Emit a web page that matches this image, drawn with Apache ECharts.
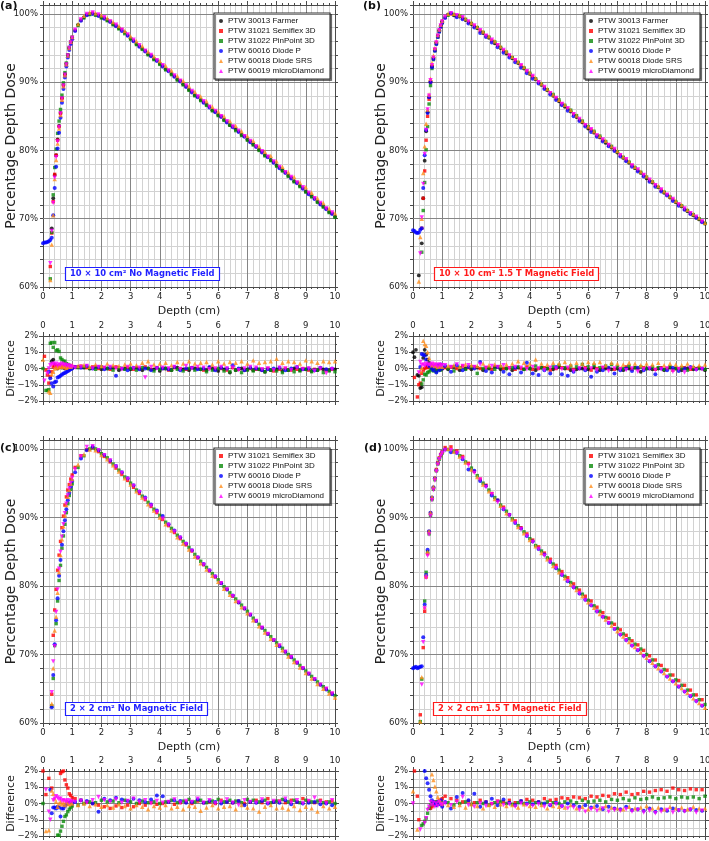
<!DOCTYPE html>
<html><head><meta charset="utf-8">
<script src="https://cdn.jsdelivr.net/npm/echarts@6/dist/echarts.min.js"></script>
<style>html,body{margin:0;padding:0;background:#fff}#c{width:709px;height:841px}</style>
</head><body><div id="c"></div>
<script>
const _ = null;
// depth grids (cm)
const depthA = [0,0.05,0.1,0.15,0.2,0.25,0.3, 0.35,0.4,0.45,0.5,0.55,0.6,0.65, 0.7,0.75,0.8,0.85,0.9,0.95,1.0,
  1.2,1.4,1.6,1.8,2.0, 2.2,2.4,2.6,2.8,3.0, 3.2,3.4,3.6,3.8,4.0, 4.2,4.4,4.6,4.8,5.0, 5.2,5.4,5.6,5.8,6.0,
  6.2,6.4,6.6,6.8,7.0, 7.2,7.4,7.6,7.8,8.0, 8.2,8.4,8.6,8.8,9.0, 9.2,9.4,9.6,9.8,10.0];
const depthB = [0,0.05,0.1,0.15,0.2,0.25,0.3, 0.35,0.4,0.45,0.5,0.55,0.6,0.65, 0.7,0.75,0.8,0.85,0.9,0.95,1.0,
  1.1,1.3,1.5,1.7,1.9, 2.1,2.3,2.5,2.7,2.9, 3.1,3.3,3.5,3.7,3.9, 4.1,4.3,4.5,4.7,4.9, 5.1,5.3,5.5,5.7,5.9,
  6.1,6.3,6.5,6.7,6.9, 7.1,7.3,7.5,7.7,7.9, 8.1,8.3,8.5,8.7,8.9, 9.1,9.3,9.5,9.7,9.9];

const detectorNames = ['PTW 30013 Farmer','PTW 31021 Semiflex 3D','PTW 31022 PinPoint 3D','PTW 60016 Diode P','PTW 60018 Diode SRS','PTW 60019 microDiamond'];
const yTicksMain = [60,70,80,90,100];
const yTicksDiff = [-2,-1,0,1,2];
const panelTags = ['(a)','(b)','(c)','(d)'];
const fieldNotes = ['10 × 10 cm² No Magnetic Field','10 × 10 cm² 1.5 T Magnetic Field','2 × 2 cm² No Magnetic Field','2 × 2 cm² 1.5 T Magnetic Field'];

// ===== (a) 10x10, 0 T : PDD (%) =====
const a_farmer_pdd = [_,_,_,_,_,_,68.6, 73.0,76.4,79.3,81.6,83.6,85.5,87.7, 89.6,91.2,92.7,94.0,95.0,95.8,96.5,
 98.4,99.5,100.0,99.9,99.5, 99.1,98.5,97.9,97.3,96.4, 95.6,94.9,94.1,93.4,92.7, 91.9,91.2,90.4,89.7,88.9, 88.1,87.4,86.7,85.9,85.2,
 84.5,83.7,83.1,82.3,81.6, 80.9,80.1,79.3,78.6,77.8, 77.1,76.3,75.5,74.8,74.0, 73.3,72.5,71.8,71.0,70.3];
const a_semiflex_pdd = [_,_,_,_,_,63.0,67.9, 72.5,76.5,79.3,81.5,83.5,85.4,87.6, 89.5,91.1,92.6,93.9,95.0,95.8,96.5,
 97.6,99.1,99.9,100.1,99.8, 99.4,98.9,98.3,97.7,96.9, 96.1,95.3,94.6,93.9,93.2, 92.4,91.7,90.9,90.2,89.4, 88.6,87.9,87.1,86.4,85.7,
 85.0,84.2,83.5,82.8,82.1, 81.3,80.6,79.8,79.1,78.3, 77.5,76.8,76.0,75.3,74.5, 73.7,73.0,72.2,71.5,70.8];
const a_pinpoint_pdd = [_,_,_,_,_,61.2,68.0, 73.5,77.5,80.2,82.5,84.3,86.0,88.1, 89.9,91.4,92.8,94.0,95.1,95.9,96.6,
 98.3,99.4,99.9,99.8,99.4, 99.0,98.4,97.8,97.1,96.3, 95.5,94.8,94.0,93.3,92.6, 91.8,91.1,90.3,89.6,88.8, 88.0,87.3,86.6,85.8,85.1,
 84.4,83.7,82.9,82.2,81.5, 80.8,80.0,79.2,78.5,77.7, 77.0,76.2,75.4,74.7,73.9, 73.2,72.4,71.7,70.9,70.2];
const a_diodeP_pdd = [66.4,66.5,66.5,66.6,66.7,66.9,67.2, 70.5,74.5,77.6,80.3,82.6,84.8,87.0, 89.0,90.7,92.3,93.6,94.7,95.6,96.3,
 97.5,99.0,99.8,100.0,99.7, 99.3,98.8,98.2,97.5,96.8, 96.0,95.2,94.5,93.8,93.1, 92.3,91.6,90.8,90.1,89.3, 88.5,87.8,87.0,86.3,85.6,
 84.9,84.1,83.4,82.7,82.0, 81.2,80.5,79.7,79.0,78.2, 77.4,76.7,75.9,75.2,74.4, 73.6,72.9,72.1,71.4,70.7];
const a_srs_pdd = [_,_,_,_,_,61.0,66.2, 70.5,75.8,78.6,81.0,83.2,85.2,87.4, 89.4,91.0,92.6,93.9,95.0,95.9,96.6,
 98.5,99.7,100.2,100.1,99.8, 99.4,98.8,98.2,97.5,96.7, 96.0,95.3,94.5,93.8,93.1, 92.4,91.7,90.9,90.2,89.4, 88.6,87.9,87.2,86.4,85.7,
 85.0,84.3,83.6,82.8,82.1, 81.4,80.6,79.8,79.2,78.4, 77.6,76.8,76.1,75.3,74.6, 73.8,73.0,72.3,71.5,70.8];
const a_micro_pdd = [_,_,_,_,_,63.5,68.2, 72.3,76.0,79.0,81.3,83.4,85.4,87.6, 89.5,91.1,92.6,93.9,95.0,95.8,96.5,
 97.7,99.2,100.0,100.2,99.9, 99.5,98.9,98.4,97.7,97.0, 96.2,95.4,94.6,94.0,93.2, 92.5,91.7,91.0,90.2,89.5, 88.7,87.9,87.2,86.4,85.8,
 85.0,84.3,83.5,82.9,82.1, 81.4,80.6,79.9,79.1,78.4, 77.6,76.8,76.1,75.3,74.6, 73.8,73.0,72.3,71.5,70.9];
// (a) difference (%)
const a_farmer_diff = [_,_,_,_,_,_,0.45, 0.55,0.25,0.1,0.0,0.1,0.15,0.05, 0.1,0.0,0.1,0.05,0.0,0.1,0.05,
 0.1,0.05,0.0,0.1,-0.05, 0.0,0.05,-0.1,0.0,-0.05, 0.05,-0.1,0.0,-0.05,-0.15, 0.0,-0.1,0.05,-0.05,-0.1, 0.0,-0.05,-0.1,0.0,-0.15,
 -0.05,-0.25,-0.1,0.0,-0.05, -0.1,-0.05,-0.2,-0.1,-0.05, -0.15,-0.1,0.0,-0.1,-0.05, -0.15,-0.1,-0.05,-0.1,-0.05];
const a_semiflex_diff = [_,0.75,-0.1,-0.4,-0.9,-0.5,-0.2, 0.1,0.2,0.15,0.1,0.2,0.1,0.15, 0.1,0.2,0.05,0.1,0.15,0.1,0.05,
 0.1,0.15,0.05,0.1,0.0, 0.05,-0.05,0.1,0.0,0.05, -0.05,0.0,0.1,-0.05,0.05, 0.0,-0.1,0.05,0.0,-0.05, 0.05,0.0,-0.1,0.05,-0.05,
 0.0,-0.1,0.05,-0.05,-0.1, 0.0,-0.05,-0.1,0.0,-0.15, -0.05,0.0,-0.1,-0.05,0.0, -0.1,-0.05,0.0,-0.1,-0.05];
const a_pinpoint_diff = [0.0,_,-1.35,-1.35,-1.3,1.55,1.6, 1.3,1.6,1.1,1.15,1.05,0.65,0.55, 0.45,0.45,0.3,0.25,0.2,0.15,0.1,
 0.05,0.1,0.0,-0.05,0.1, 0.0,-0.1,0.05,-0.05,0.0, -0.1,0.05,0.0,-0.15,-0.05, 0.0,-0.1,-0.05,-0.15,0.0, -0.1,-0.05,-0.2,-0.1,0.0,
 -0.15,-0.2,-0.1,-0.25,-0.1, -0.15,-0.05,-0.2,-0.1,-0.15, -0.25,-0.1,-0.2,-0.15,-0.05, -0.2,-0.1,-0.25,-0.15,-0.2];
const a_diodeP_diff = [_,_,_,_,-0.2,-0.6,-0.9, -1.1,-0.85,-0.8,-0.55,-0.5,-0.45,-0.37, -0.3,-0.27,-0.22,-0.17,-0.1,-0.05,0.0,
 0.1,0.05,0.15,0.0,0.1, -0.05,0.05,-0.45,0.0,-0.1, 0.05,-0.05,0.0,-0.1,0.05, 0.0,-0.05,0.1,-0.1,0.0, 0.05,-0.05,0.0,0.1,-0.1,
 0.05,0.0,0.2,0.0,-0.1, 0.05,0.0,-0.1,-0.05,0.0, 0.05,-0.1,0.0,0.1,-0.05, 0.0,-0.1,0.05,-0.05,0.0];
const a_srs_diff = [0.55,_,_,_,-1.4,-1.5,-0.35, -0.2,0.0,0.1,0.05,0.15,0.1,0.2, 0.1,0.15,0.05,0.1,0.15,0.1,0.2,
 0.15,0.2,0.1,0.25,0.15, 0.3,0.2,0.15,0.25,0.3, 0.2,0.35,0.45,0.25,0.3, 0.35,0.2,0.4,0.3,0.45, 0.3,0.35,0.4,0.25,0.45,
 0.3,0.4,0.35,0.45,0.3, 0.5,0.35,0.4,0.45,0.6, 0.35,0.45,0.4,0.3,0.5, 0.45,0.35,0.45,0.4,0.45];
const a_micro_diff = [_,-0.75,_,-0.3,0.0,0.2,0.25, 0.3,0.2,0.3,0.15,0.25,0.2,0.3, 0.2,0.25,0.15,0.2,0.1,0.15,0.1,
 0.05,0.1,0.15,0.0,0.1, 0.05,0.1,0.0,-0.05,0.1, 0.0,0.05,-0.55,0.1,0.0, 0.05,0.0,0.1,-0.05,0.15, 0.0,0.1,0.05,-0.05,0.0,
 0.1,0.0,0.05,-0.1,0.0, 0.1,0.05,-0.05,0.0,-0.1, 0.05,0.0,-0.1,0.05,-0.05, 0.0,-0.15,0.0,-0.3,-0.05];

// ===== (b) 10x10, 1.5 T =====
const b_farmer_pdd = [_,_,_,_,61.7,_,66.4, 73.0,78.5,82.8,85.6,87.8,90.1,92.3, 93.6,94.8,95.8,96.8,97.6,98.3,98.9,
 99.9,99.8,99.6,99.1,98.5, 97.9,97.2,96.5,95.7,95.0, 94.2,93.5,92.8,92.0,91.2, 90.4,89.6,88.8,88.0,87.2, 86.4,85.7,84.9,84.1,83.2,
 82.6,81.9,81.1,80.4,79.7, 78.9,78.2,77.4,76.7,75.9, 75.3,74.6,73.8,73.1,72.4, 71.8,71.1,70.5,69.9,69.3];
const b_semiflex_pdd = [_,_,_,_,_,_,68.6, 73.0,77.0,81.5,85.0,87.5,90.0,92.3, 93.5,94.7,95.7,96.7,97.5,98.2,98.8,
 99.5,100.0,99.7,99.4,98.8, 98.2,97.5,96.8,96.1,95.4, 94.6,93.9,93.2,92.4,91.6, 90.8,90.0,89.2,88.4,87.6, 86.8,86.1,85.3,84.5,83.7,
 83.0,82.2,81.5,80.8,80.1, 79.3,78.6,77.8,77.1,76.4, 75.6,74.9,74.2,73.5,72.8, 72.1,71.4,70.8,70.2,69.6];
const b_pinpoint_pdd = [_,_,_,_,_,_,65.1, 71.2,75.3,80.1,83.5,86.8,89.5,92.0, 93.3,94.6,95.6,96.6,97.4,98.1,98.7,
 99.8,99.9,99.7,99.2,98.6, 98.0,97.3,96.6,95.9,95.1, 94.4,93.6,92.9,92.1,91.3, 90.5,89.7,88.9,88.2,87.4, 86.6,85.9,85.1,84.3,83.5,
 82.8,82.1,81.3,80.6,79.8, 79.0,78.3,77.5,76.8,76.1, 75.4,74.6,73.9,73.2,72.5, 71.9,71.2,70.6,70.0,69.3];
const b_diodeP_pdd = [68.3,68.2,68.0,67.9,68.0,68.4,68.6, 74.5,79.3,83.0,85.5,87.8,90.0,92.2, 93.4,94.6,95.6,96.6,97.4,98.1,98.7,
 99.4,100.1,99.5,99.2,98.6, 98.0,97.2,96.6,95.8,95.1, 94.3,93.6,92.9,92.1,91.3, 90.5,89.8,89.0,88.2,87.4, 86.6,85.8,85.0,84.3,83.5,
 82.7,82.0,81.3,80.6,79.9, 79.1,78.4,77.6,76.9,76.2, 75.4,74.7,74.0,73.4,72.6, 71.9,71.3,70.7,70.1,69.5];
const b_srs_pdd = [_,_,_,_,60.8,67.3,70.0, 76.7,80.6,83.9,86.0,88.2,90.5,92.8, 93.9,95.0,96.0,96.9,97.7,98.4,99.0,
 100.0,100.0,99.8,99.3,98.7, 98.1,97.4,96.7,96.0,95.2, 94.5,93.7,93.0,92.2,91.4, 90.6,89.8,89.0,88.2,87.4, 86.7,85.9,85.1,84.3,83.5,
 82.8,82.1,81.4,80.6,79.9, 79.1,78.4,77.6,76.9,76.2, 75.5,74.8,74.0,73.3,72.6, 72.0,71.3,70.7,70.1,69.4];
const b_micro_pdd = [_,_,_,_,_,64.9,70.2, 75.1,79.5,83.0,86.0,88.0,90.3,92.5, 93.6,94.8,95.8,96.8,97.6,98.3,98.9,
 99.6,100.1,99.8,99.5,98.9, 98.3,97.6,96.8,96.2,95.4, 94.7,93.9,93.2,92.5,91.6, 90.9,90.0,89.3,88.4,87.7, 86.8,86.2,85.3,84.6,83.7,
 83.1,82.2,81.6,80.8,80.2, 79.3,78.7,77.8,77.2,76.4, 75.7,74.9,74.3,73.5,72.9, 72.1,71.5,70.8,70.3,69.6];
const b_farmer_diff = [1.0,0.7,1.15,-0.4,-0.45,-1.2,-1.15, 0.65,1.15,0.85,0.55,0.35,0.25,0.15, 0.1,0.05,-0.1,0.0,0.05,-0.05,0.0,
 -0.05,0.1,-0.1,0.0,-0.05, 0.05,-0.1,0.0,0.1,-0.05, 0.0,-0.1,0.05,-0.05,0.0, -0.1,0.05,0.0,-0.05,0.1, 0.0,-0.1,-0.05,0.0,-0.05,
 0.05,-0.1,0.0,-0.05,0.0, -0.1,0.0,0.05,-0.2,0.0, -0.05,0.0,-0.1,0.05,0.0, -0.1,0.0,-0.05,0.05,-0.1];
const b_semiflex_diff = [_,-0.55,_,-1.75,-1.0,-0.9,-0.3, -0.1,0.0,0.1,0.05,0.15,0.1,0.0, 0.05,0.1,0.0,-0.05,0.1,0.05,0.0,
 0.05,0.1,0.0,0.15,0.05, 0.1,0.0,0.05,-0.05,0.1, 0.0,0.05,-0.05,0.0,0.1, -0.05,0.0,0.05,-0.1,0.0, 0.05,0.0,-0.05,0.0,0.05,
 -0.1,0.0,0.05,0.0,-0.05, 0.0,0.1,-0.05,0.0,0.05, 0.0,-0.05,0.05,0.0,-0.1, 0.0,0.05,-0.05,0.0,0.0];
const b_pinpoint_diff = [_,_,_,_,_,_,-0.95, -0.7,-0.35,-0.4,-0.25,-0.2,-0.1,0.0, -0.15,0.0,-0.2,-0.05,0.0,-0.1,0.05,
 0.0,-0.15,0.05,-0.05,0.1, -0.3,0.0,0.05,-0.05,0.1, 0.0,0.05,0.1,-0.05,0.0, 0.15,0.05,0.0,0.1,0.2, 0.05,0.15,0.1,0.25,0.1,
 0.2,0.05,0.15,0.25,0.1, 0.0,0.15,0.05,0.1,0.0, 0.1,0.05,-0.05,0.1,0.0, 0.05,-0.1,0.05,0.0,-0.05];
const b_diodeP_diff = [_,_,_,_,_,0.1,0.9, 0.85,0.8,0.55,0.25,0.15,0.2,0.0, -0.1,0.1,-0.25,0.2,-0.1,0.25,0.0,
 0.15,-0.2,0.2,-0.1,0.1, 0.0,0.4,-0.15,-0.25,0.1, -0.2,-0.35,0.05,-0.25,0.35, -0.3,-0.4,-0.1,-0.3,0.1, -0.35,-0.45,-0.2,0.0,-0.1,
 -0.5,-0.2,-0.1,0.05,-0.3, -0.1,0.0,-0.15,0.05,-0.1, 0.0,-0.35,0.0,-0.1,0.05, -0.15,0.0,0.1,-0.05,0.0];
const b_srs_diff = [_,_,_,_,_,-0.15,0.05, 1.7,1.5,1.4,1.0,0.65,0.3,0.2, 0.25,0.15,0.2,0.1,0.15,0.2,0.1,
 0.15,0.2,0.1,0.25,0.2, 0.15,0.3,0.2,0.25,0.2, 0.25,0.3,0.45,0.35,0.3, 0.55,0.3,0.25,0.35,0.3, 0.4,0.25,0.35,0.3,0.4,
 0.35,0.4,0.2,0.35,0.3, 0.25,0.35,0.3,0.2,0.3, 0.25,0.35,0.2,0.3,0.25, 0.2,0.3,0.15,0.2,0.25];
const b_micro_diff = [_,_,_,_,-0.25,0.4,0.2, 0.25,0.15,0.3,0.2,0.25,0.2,0.3, 0.15,0.25,0.2,0.1,0.25,0.15,0.2,
 0.2,0.1,0.25,0.15,0.2, 0.1,0.25,0.05,0.15,0.1, 0.2,0.0,0.1,0.05,-0.05, 0.1,0.0,-0.1,0.05,0.0, -0.05,0.05,-0.15,0.0,-0.05,
 0.0,-0.1,0.05,-0.15,0.0, -0.05,-0.1,0.0,-0.2,-0.05, 0.0,-0.1,-0.05,0.0,-0.2, -0.05,-0.25,0.0,-0.1,-0.05];

// ===== (c) 2x2, 0 T =====
const c_semiflex_pdd = [_,_,_,_,_,_,64.2, 72.8,76.5,79.5,82.3,84.5,86.5,88.5, 90.2,91.8,93.0,94.0,94.8,95.6,96.2,
 97.3,99.0,99.9,100.2,99.6, 98.9,98.1,97.2,96.3,95.4, 94.4,93.5,92.6,91.6,90.7, 89.7,88.8,87.8,86.9,86.0, 85.1,84.1,83.1,82.2,81.3,
 80.4,79.5,78.5,77.6,76.7, 75.8,74.9,73.9,73.0,72.1, 71.3,70.4,69.6,68.8,68.0, 67.2,66.4,65.6,65.0,64.3];
const c_pinpoint_pdd = [_,_,_,_,_,_,62.5, 66.5,71.3,74.5,77.8,80.8,83.0,85.5, 87.3,89.0,90.7,92.0,93.2,94.1,94.9,
 97.3,99.0,100.0,100.0,99.3, 98.7,97.8,96.9,95.9,95.0, 94.0,93.1,92.2,91.2,90.3, 89.3,88.4,87.4,86.5,85.6, 84.6,83.6,82.7,81.8,80.9,
 79.9,79.0,78.1,77.2,76.3, 75.3,74.4,73.5,72.6,71.7, 70.9,70.0,69.2,68.4,67.6, 66.8,66.0,65.3,64.6,64.0];
const c_diodeP_pdd = [_,_,_,_,_,_,62.3, 67.0,71.5,75.0,78.2,81.5,83.8,86.0, 88.0,89.6,91.2,92.5,93.6,94.5,95.3,
 96.6,98.6,99.8,100.3,99.8, 99.1,98.3,97.5,96.6,95.7, 94.7,93.8,92.9,91.9,91.0, 90.2,89.0,88.1,87.1,86.2, 85.2,84.2,83.2,82.3,81.4,
 80.4,79.5,78.6,77.6,76.7, 75.8,74.9,73.9,73.0,72.1, 71.2,70.4,69.6,68.8,68.0, 67.2,66.4,65.6,64.9,64.2];
const c_srs_pdd = [_,_,_,_,_,_,62.8, 68.0,73.5,75.5,79.0,82.0,84.5,86.8, 88.7,90.3,91.8,93.0,94.0,94.9,95.6,
 97.7,99.2,99.9,99.8,99.1, 98.5,97.6,96.7,95.7,94.8, 93.8,92.9,91.9,91.0,90.0, 89.0,88.1,87.1,86.2,85.3, 84.3,83.3,82.4,81.5,80.6,
 79.6,78.7,77.8,76.9,76.0, 75.0,74.1,73.2,72.3,71.4, 70.6,69.7,68.9,68.1,67.3, 66.5,65.7,65.0,64.3,63.7];
const c_micro_pdd = [_,_,_,_,_,_,64.5, 69.0,71.2,76.2,79.5,82.5,85.0,87.2, 89.0,90.6,92.0,93.2,94.2,95.0,95.8,
 97.0,98.9,100.3,100.4,99.8, 99.1,98.3,97.4,96.5,95.6, 94.6,93.7,92.7,91.7,90.8, 89.8,88.9,87.9,87.0,86.1, 85.1,84.1,83.1,82.2,81.3,
 80.4,79.5,78.5,77.6,76.7, 75.8,74.9,73.9,73.0,72.1, 71.3,70.4,69.6,68.8,68.0, 67.2,66.4,65.6,65.0,64.3];
const c_semiflex_diff = [2.0,_,0.55,_,1.55,_,0.95, _,_,_,_,_,1.85,1.95, 2.0,1.45,1.15,0.95,0.6,0.5,0.35,
 0.3,0.2,0.1,0.0,-0.1, -0.2,-0.3,-0.15,-0.25,-0.1, -0.2,0.0,-0.1,0.05,-0.05, 0.0,0.1,-0.05,0.05,0.1, 0.0,0.15,0.05,0.1,0.0,
 0.2,0.1,0.05,0.15,0.0, 0.1,0.2,0.05,0.3,0.1, 0.15,0.05,0.2,0.1,0.3, 0.15,0.05,0.2,0.1,0.15];
const c_pinpoint_diff = [0.0,_,_,_,_,_,_, _,_,_,-1.95,-1.95,-1.7,-1.4, -1.1,-0.8,-0.7,-0.5,-0.35,-0.25,-0.15,
 -0.1,0.0,0.1,0.05,0.2, 0.1,0.15,0.05,0.2,0.1, 0.0,0.15,0.05,0.1,0.0, 0.1,0.2,0.05,0.15,0.25, 0.1,0.2,0.05,0.15,0.25,
 0.1,0.2,0.15,0.05,0.25, 0.2,0.1,0.2,0.05,0.15, 0.25,0.1,0.2,0.05,0.2, 0.1,0.15,0.05,0.1,0.0];
const c_diodeP_diff = [_,_,_,_,_,0.85,-0.6, -0.25,-0.25,-0.3,-0.2,-0.25,-0.8,-0.3, -0.3,-0.15,-0.05,0.0,0.05,0.1,0.0,
 0.1,0.2,0.15,0.0,-0.5, 0.3,0.2,0.35,0.25,0.15, 0.3,0.2,0.1,0.25,0.5, 0.45,0.1,0.2,0.15,0.05, 0.1,0.25,0.05,0.15,0.1,
 0.0,0.1,0.05,0.15,-0.1, 0.1,0.05,0.15,0.0,0.1, 0.05,0.2,-0.05,0.1,0.0, 0.05,0.1,-0.05,0.0,-0.1];
const c_srs_diff = [_,_,-1.7,_,-1.65,_,0.8, 0.6,0.3,0.1,-0.2,0.0,0.1,-0.05, 0.05,-0.1,0.1,0.0,-0.05,0.05,0.0,
 -0.1,0.0,-0.15,-0.05,-0.2, -0.1,-0.25,-0.05,-0.15,-0.3, -0.1,-0.2,-0.35,-0.15,-0.25, -0.1,-0.3,-0.2,-0.35,-0.15, -0.2,-0.45,-0.25,-0.1,-0.3,
 -0.2,-0.15,-0.35,-0.1,-0.25, -0.3,-0.5,-0.2,-0.1,-0.3, -0.25,-0.35,-0.15,-0.4,-0.2, -0.3,-0.5,-0.15,-0.3,-0.2];
const c_micro_diff = [_,_,0.85,_,-0.5,-1.0,_, 0.2,0.3,0.45,0.35,0.25,0.3,0.15, 0.2,0.15,0.1,0.2,0.05,0.15,0.1,
 0.1,0.15,0.05,0.2,0.4, 0.2,0.1,0.25,0.05,0.15, 0.3,0.1,0.2,0.0,0.15, 0.05,0.1,0.25,0.05,0.15, 0.1,0.3,0.05,0.2,0.0,
 0.1,0.25,0.05,-0.1,0.2, 0.1,0.05,0.25,0.0,0.15, 0.1,0.3,0.05,0.2,0.0, 0.15,0.35,0.1,0.0,0.2];

// ===== (d) 2x2, 1.5 T =====
const d_semiflex_pdd = [_,_,_,_,_,61.2,_, 71.0,76.3,81.3,84.7,87.9,90.6,92.8, 94.3,95.7,97.0,98.0,98.7,99.2,99.6,
 100.2,100.3,99.7,98.9,97.9, 96.7,95.6,94.7,93.5,92.5, 91.5,90.4,89.5,88.5,87.6, 86.7,85.7,84.8,83.9,83.0, 82.1,81.2,80.3,79.4,78.5,
 77.8,76.9,76.1,75.3,74.4, 73.6,72.8,72.0,71.4,70.6, 69.8,69.2,68.4,67.7,67.0, 66.2,65.5,64.8,64.1,63.4];
const d_pinpoint_pdd = [_,_,_,_,_,60.2,66.4, _,77.8,82.0,85.0,87.6,90.3,92.6, 94.1,95.5,96.8,97.8,98.5,99.0,99.4,
 99.9,99.6,99.0,98.1,97.2, 96.1,95.0,94.0,92.9,91.8, 90.9,89.8,88.8,87.9,86.9, 85.9,85.1,84.1,83.2,82.3, 81.4,80.5,79.7,78.8,77.9,
 77.1,76.3,75.4,74.6,73.8, 73.0,72.3,71.5,70.8,70.0, 69.2,68.5,67.8,67.0,66.3, 65.5,64.8,64.1,63.4,62.7];
const d_diodeP_pdd = [68.0,68.1,68.2,68.0,68.1,68.2,68.3, 72.5,77.3,81.6,85.3,88.0,90.7,92.9, 94.4,95.7,96.9,97.9,98.6,99.1,99.5,
 99.9,99.5,99.4,98.5,97.0, 96.8,95.3,94.6,93.2,92.5, 91.2,90.4,89.2,88.4,87.3, 86.5,85.4,84.6,83.5,82.6, 81.6,80.7,79.8,78.9,78.0,
 77.2,76.3,75.5,74.6,73.7, 72.9,72.1,71.3,70.6,69.8, 69.0,68.3,67.5,66.8,66.1, 65.3,64.6,63.9,63.2,62.5];
const d_srs_pdd = [_,_,_,_,_,60.2,66.7, _,76.9,81.5,85.0,88.0,90.7,93.0, 94.5,95.8,97.0,98.0,98.7,99.2,99.6,
 100.0,99.6,98.9,98.0,97.0, 95.9,94.8,93.8,92.7,91.7, 90.6,89.7,88.6,87.7,86.7, 85.8,84.8,83.9,82.9,82.0, 81.1,80.2,79.4,78.5,77.6,
 76.8,75.9,75.1,74.2,73.4, 72.6,71.8,71.1,70.3,69.5, 68.8,68.0,67.3,66.5,65.8, 65.1,64.4,63.6,62.9,62.2];
const d_micro_pdd = [_,_,_,_,_,_,65.6, 71.8,76.7,81.2,84.4,87.5,90.2,92.5, 94.0,95.4,96.7,97.7,98.5,99.0,99.4,
 99.8,99.8,99.4,98.6,97.6, 96.5,95.5,94.4,93.4,92.2, 91.2,90.3,89.2,88.3,87.3, 86.4,85.4,84.4,83.5,82.6, 81.6,80.7,79.7,78.9,77.9,
 77.1,76.2,75.4,74.6,73.7, 72.8,72.0,71.2,70.6,69.7, 69.0,68.2,67.5,66.7,66.0, 65.3,64.5,63.9,63.1,62.5];
const d_semiflex_diff = [_,2.0,_,0.45,-1.0,_,_, _,_,_,_,_,-0.3,-0.2, -0.1,0.0,0.1,0.05,0.2,0.1,0.3,
 0.45,0.3,0.2,0.1,0.15, 0.05,0.2,0.1,0.0,0.15, 0.1,0.2,0.05,0.15,0.25, 0.2,0.1,0.3,0.2,0.25, 0.35,0.3,0.4,0.35,0.3,
 0.45,0.4,0.5,0.45,0.6, 0.55,0.7,0.55,0.6,0.75, 0.7,0.8,0.85,0.75,0.95, 0.85,0.8,0.9,0.85,0.85];
const d_pinpoint_diff = [_,_,_,_,_,_,-1.35, -1.25,-1.1,-0.9,-0.6,-0.3,-0.1,0.05, 0.0,0.1,-0.05,0.05,0.0,0.1,-0.1,
 0.05,-0.1,0.0,0.1,-0.05, 0.05,0.0,-0.1,0.05,0.1, 0.0,-0.05,0.05,0.0,0.1, 0.05,0.0,0.1,0.05,0.0, 0.1,0.15,0.05,0.2,0.1,
 0.15,0.2,0.1,0.25,0.2, 0.3,0.2,0.35,0.25,0.3, 0.4,0.3,0.35,0.4,0.3, 0.4,0.35,0.4,0.3,0.45];
const d_diodeP_diff = [_,_,_,_,_,_,_, _,2.0,1.55,1.25,0.85,0.45,0.2, 0.1,0.0,-0.1,0.1,-0.05,0.2,-0.2,
 0.1,-0.3,0.4,0.65,0.2, 0.6,-0.2,0.1,0.3,-0.1, 0.25,0.05,-0.1,0.15,0.0, -0.05,0.1,0.0,-0.1,0.05, -0.15,0.0,-0.1,-0.2,-0.1,
 -0.25,-0.15,-0.35,-0.2,-0.3, -0.35,-0.2,-0.4,-0.35,-0.45, -0.3,-0.5,-0.35,-0.45,-0.3, -0.4,-0.45,-0.35,-0.4,-0.45];
const d_srs_diff = [0.75,_,_,-1.6,_,_,_, _,_,_,_,_,_,1.8, 1.45,1.05,0.75,0.4,0.2,0.1,0.0,
 -0.1,-0.2,-0.1,-0.25,-0.05, -0.15,-0.3,-0.1,-0.2,-0.05, -0.15,-0.1,-0.25,-0.05,-0.15, -0.2,-0.1,-0.3,-0.15,-0.2, -0.25,-0.1,-0.3,-0.2,-0.35,
 -0.2,-0.3,-0.15,-0.25,-0.3, -0.35,-0.2,-0.3,-0.25,-0.15, -0.3,-0.25,-0.35,-0.2,-0.3, -0.25,-0.35,-0.2,-0.3,-0.3];
const d_micro_diff = [0.0,_,_,_,_,-1.6,_, _,-1.2,-0.9,-0.4,-0.2,0.1,-0.1, 0.05,-0.2,0.0,-0.15,0.1,-0.05,-0.1,
 0.0,-0.1,0.1,0.4,-0.1, -0.2,0.0,-0.15,-0.05,0.1, -0.1,-0.05,-0.2,0.0,-0.1, -0.15,-0.05,-0.2,-0.1,-0.05, -0.2,-0.3,-0.25,-0.4,-0.5,
 -0.35,-0.45,-0.3,-0.5,-0.4, -0.45,-0.35,-0.5,-0.4,-0.55, -0.45,-0.6,-0.5,-0.4,-0.55, -0.45,-0.5,-0.4,-0.55,-0.45];

// ---------------- styling / layout ----------------
const FONT = 'DejaVu Sans';
const AX = '#4a4a4a', MAJ = '#858585', MIN = '#d2d2d2', TXT = '#222';
const TICK_FS = 8.5;
const YMAX = 101.3;
const styles = [
  {color:'#000000', symbol:'circle', size:3.8, rot:0},
  {color:'#ff0000', symbol:'rect', size:3.4, rot:0},
  {color:'#0a8a0a', symbol:'rect', size:3.4, rot:0},
  {color:'#0000ff', symbol:'circle', size:4, rot:0},
  {color:'#ff8c1a', symbol:'triangle', size:4.4, rot:0},
  {color:'#ff00ff', symbol:'triangle', size:4.4, rot:180}
];
const gridBoxes = [
  {left:43, top:5, width:292, height:282}, {left:43, top:336, width:292, height:65},
  {left:413, top:5, width:292, height:282}, {left:413, top:336, width:292, height:65},
  {left:43, top:440, width:292, height:283}, {left:43, top:771, width:292, height:65},
  {left:413, top:440, width:292, height:283}, {left:413, top:771, width:292, height:65}
];

const panels = [
  {g:0, dets:[[0,depthA,a_farmer_pdd,a_farmer_diff],[1,depthB,a_semiflex_pdd,a_semiflex_diff],[2,depthA,a_pinpoint_pdd,a_pinpoint_diff],
              [3,depthB,a_diodeP_pdd,a_diodeP_diff],[4,depthA,a_srs_pdd,a_srs_diff],[5,depthB,a_micro_pdd,a_micro_diff]]},
  {g:2, dets:[[0,depthA,b_farmer_pdd,b_farmer_diff],[1,depthB,b_semiflex_pdd,b_semiflex_diff],[2,depthA,b_pinpoint_pdd,b_pinpoint_diff],
              [3,depthB,b_diodeP_pdd,b_diodeP_diff],[4,depthA,b_srs_pdd,b_srs_diff],[5,depthB,b_micro_pdd,b_micro_diff]]},
  {g:4, dets:[[1,depthB,c_semiflex_pdd,c_semiflex_diff],[2,depthA,c_pinpoint_pdd,c_pinpoint_diff],
              [3,depthB,c_diodeP_pdd,c_diodeP_diff],[4,depthA,c_srs_pdd,c_srs_diff],[5,depthB,c_micro_pdd,c_micro_diff]]},
  {g:6, dets:[[1,depthB,d_semiflex_pdd,d_semiflex_diff],[2,depthA,d_pinpoint_pdd,d_pinpoint_diff],
              [3,depthB,d_diodeP_pdd,d_diodeP_diff],[4,depthA,d_srs_pdd,d_srs_diff],[5,depthB,d_micro_pdd,d_micro_diff]]}
];

function pts(depths, vals){
  const out = [];
  for (let i = 0; i < vals.length && i < depths.length; i++) if (vals[i] !== null) out.push([depths[i], vals[i]]);
  return out;
}
const fmtPct = v => (v < 0 ? '\u2212' + (-v) : '' + v) + '%';

const grid = gridBoxes.map(b => Object.assign({containLabel:false, outerBoundsMode:'none', show:false}, b));
const xAxis = [], yAxis = [];
const line = {show:true, onZero:false, lineStyle:{color:AX, width:1}};
gridBoxes.forEach((b, gi) => {
  const main = gi % 2 === 0;
  const xb = {gridIndex:gi, type:'value', min:0, max:10, interval:1, axisLine:line,
    axisTick:{show:true, inside:false, length:4, lineStyle:{color:AX}},
    minorTick:{show:true, splitNumber:5, length:2, lineStyle:{color:AX}}};
  xAxis.push(Object.assign({}, xb, {position:'bottom', z:0,
    axisLabel:{show:main, fontSize:TICK_FS, color:TXT, fontFamily:FONT, margin:5},
    splitLine:{show:true, showMinLine:false, showMaxLine:false, lineStyle:{color:MAJ, width:1}},
    minorSplitLine:{show:true, lineStyle:{color:MIN, width:1}},
    name: main ? 'Depth (cm)' : '', nameLocation:'middle', nameGap:19, nameMoveOverlap:false,
    nameTextStyle:{fontSize:11, color:TXT, fontFamily:FONT}}));
  xAxis.push(Object.assign({}, xb, {position:'top', z:1,
    axisLabel:{show:!main, fontSize:TICK_FS, color:TXT, fontFamily:FONT, margin:6},
    splitLine:{show:false}, minorSplitLine:{show:false}}));
  if (main) {
    yAxis.push({gridIndex:gi, type:'value', min:60, max:YMAX, interval:2, position:'left', z:0, axisLine:line,
      axisTick:{show:true, length:3, lineStyle:{color:AX}},
      axisLabel:{fontSize:TICK_FS, color:TXT, fontFamily:FONT, margin:5,
        formatter: v => yTicksMain.indexOf(Math.round(v*1000)/1000) >= 0 ? v + '%' : ''},
      splitLine:{show:true, showMinLine:false, showMaxLine:false, lineStyle:{color:MIN}},
      name:'Percentage Depth Dose', nameLocation:'middle', nameGap:25, nameMoveOverlap:false,
      nameTextStyle:{fontSize:14, color:TXT, fontFamily:FONT}});
    yAxis.push({gridIndex:gi, type:'value', min:60, max:YMAX, interval:2, position:'right', z:1, axisLine:line,
      axisTick:{show:true, length:3, lineStyle:{color:AX}}, axisLabel:{show:false}, splitLine:{show:false}});
    yAxis.push({gridIndex:gi, type:'value', min:60, max:YMAX, interval:10, position:'left', z:1,
      axisLine:{show:false}, axisTick:{show:false}, axisLabel:{show:false},
      splitLine:{show:true, showMinLine:false, showMaxLine:false, lineStyle:{color:MAJ}}});
  } else {
    const yb = {gridIndex:gi, type:'value', min:-2, max:2, interval:1, axisLine:line,
      axisTick:{show:true, length:4, lineStyle:{color:AX}},
      minorTick:{show:true, splitNumber:2, length:2, lineStyle:{color:AX}}};
    yAxis.push(Object.assign({}, yb, {position:'left', z:1,
      axisLabel:{fontSize:TICK_FS, color:TXT, fontFamily:FONT, margin:5,
        formatter: v => yTicksDiff.indexOf(v) >= 0 ? fmtPct(v) : ''},
      splitLine:{show:true, showMinLine:false, showMaxLine:false, lineStyle:{color:MAJ}},
      minorSplitLine:{show:true, lineStyle:{color:MIN}},
      name:'Difference', nameLocation:'middle', nameGap:26, nameMoveOverlap:false,
      nameTextStyle:{fontSize:11, color:TXT, fontFamily:FONT}}));
    yAxis.push(Object.assign({}, yb, {position:'right', z:1, axisLabel:{show:false}, splitLine:{show:false}}));
    yAxis.push({gridIndex:gi, type:'value', min:-2, max:2, show:false});
  }
});

const series = [];
panels.forEach(p => {
  p.dets.forEach(([k, depths, pdd, diff]) => {
    const s = styles[k];
    const common = {type:'scatter', name:detectorNames[k], symbol:s.symbol, symbolSize:s.size, symbolRotate:s.rot,
      itemStyle:{color:s.color}, silent:true, animation:false, z:2};
    series.push(Object.assign({}, common, {xAxisIndex:2*p.g, yAxisIndex:3*p.g, data:pts(depths, pdd)}));
    series.push(Object.assign({}, common, {xAxisIndex:2*(p.g+1), yAxisIndex:3*(p.g+1), data:pts(depths, diff)}));
  });
});

const legendBase = {orient:'vertical', itemWidth:4, itemHeight:4, itemGap:0, padding:[3,6,3,5],
  borderColor:'#333', borderWidth:1.2, backgroundColor:'#fff', selectedMode:false,
  shadowColor:'rgba(0,0,0,0.45)', shadowOffsetX:1.5, shadowOffsetY:1.5, shadowBlur:0,
  textStyle:{fontFamily:'Liberation Sans', fontSize:8, color:'#111', lineHeight:10}};
const legend = [
  Object.assign({left:214, top:13, data:detectorNames.slice()}, legendBase),
  Object.assign({left:584, top:13, data:detectorNames.slice()}, legendBase),
  Object.assign({left:214, top:448, data:detectorNames.slice(1)}, legendBase),
  Object.assign({left:584, top:448, data:detectorNames.slice(1)}, legendBase)
];

const tagPos = [[0,1],[363,1],[0,443],[364,443]];
const notePos = [[65,267,'#1f1fff'],[434,267,'#ff1a1a'],[65,702,'#1f1fff'],[433,702,'#ff1a1a']];
const title = [];
panelTags.forEach((t, i) => title.push({text:t, left:tagPos[i][0], top:tagPos[i][1], padding:0,
  textStyle:{fontSize:11, fontWeight:'bold', color:'#111', fontFamily:FONT}}));
fieldNotes.forEach((t, i) => title.push({text:t, left:notePos[i][0], top:notePos[i][1], padding:[3,5,3,5],
  borderColor:notePos[i][2], borderWidth:1.2, backgroundColor:'#fff',
  textStyle:{fontSize:8.4, fontWeight:'bold', color:notePos[i][2], fontFamily:FONT}}));

const chart = echarts.init(document.getElementById('c'), null, {renderer:'canvas'});
chart.setOption({animation:false, backgroundColor:'#fff', textStyle:{fontFamily:FONT},
  title, legend, grid, xAxis, yAxis, series});
</script></body></html>
